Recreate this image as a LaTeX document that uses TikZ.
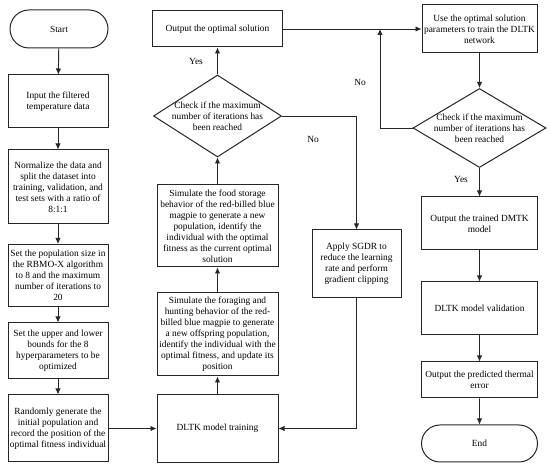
\documentclass[tikz,border=0pt]{standalone}
\usepackage{fontspec}
\setmainfont{Liberation Serif}
\usetikzlibrary{shapes.geometric,shapes.misc,arrows.meta}
\begin{document}
\begin{tikzpicture}[x=1pt,y=-1pt,
  every node/.style={font=\fontsize{9.4pt}{11pt}\selectfont, align=center, inner sep=0pt},
  box/.style={draw=black!85, line width=1pt, rectangle},
  term/.style={draw=black!85, line width=1pt, rounded rectangle},
  dia/.style={draw=black!85, line width=1pt, diamond, inner sep=0pt},
  arr/.style={draw=black!85, line width=0.9pt, -{Latex[length=6pt,width=5.5pt]}},
  lbl/.style={font=\fontsize{9.4pt}{11pt}\selectfont}]
\useasboundingbox (0,0) rectangle (550,470);
% left column
\node[term, minimum width=98pt, minimum height=38pt] (start) at (59,29) {Start};
\node[box, minimum width=100pt, minimum height=53pt] (input) at (58,101.5) {Input the filtered\\temperature data};
\node[box, minimum width=100pt, minimum height=74pt] (norm) at (58,187) {Normalize the data and\\split the dataset into\\training, validation, and\\test sets with a ratio of\\8:1:1};
\node[box, minimum width=100pt, minimum height=62pt] (pop) at (58,275.5) {Set the population size in\\the RBMO-X algorithm\\to 8 and the maximum\\number of iterations to\\20};
\node[box, minimum width=100pt, minimum height=56pt] (bounds) at (58,351) {Set the upper and lower\\bounds for the 8\\hyperparameters to be\\optimized};
\node[box, minimum width=100pt, minimum height=67pt] (rand) at (58,428.5) {Randomly generate the\\initial population and\\record the position of the\\optimal fitness individual};
% middle column
\node[box, minimum width=121pt, minimum height=68pt] (train) at (217.5,428.5) {DLTK model training};
\node[box, minimum width=121pt, minimum height=83pt] (forage) at (217.5,334.5) {Simulate the foraging and\\hunting behavior of the red-\\billed blue magpie to generate\\a new offspring population,\\identify the individual with the\\optimal fitness, and update its\\position};
\node[box, minimum width=121pt, minimum height=82pt] (food) at (217.5,226) {Simulate the food storage\\behavior of the red-billed blue\\magpie to generate a new\\population, identify the\\individual with the optimal\\fitness as the current optimal\\solution};
\node[dia, minimum width=128pt, minimum height=82pt] (d1) at (217.5,116) {};
\node (d1t) at (217.5,116) {Check if the maximum\\number of iterations has\\been reached};
\node[box, minimum width=130pt, minimum height=36pt] (optsol) at (217.5,29) {Output the optimal solution};
\node[box, minimum width=89pt, minimum height=68pt] (sgdr) at (356.5,264) {Apply SGDR to\\reduce the learning\\rate and perform\\gradient clipping};
% right column
\node[box, minimum width=115pt, minimum height=48pt] (use) at (479.5,29) {Use the optimal solution\\parameters to train the DLTK\\network};
\node[dia, minimum width=133pt, minimum height=79pt] (d2) at (479.5,128) {};
\node (d2t) at (479.5,128) {Check if the maximum\\number of iterations has\\been reached};
\node[box, minimum width=116pt, minimum height=53pt] (trained) at (479.5,223.5) {Output the trained DMTK\\model};
\node[box, minimum width=116pt, minimum height=53pt] (valid) at (479.5,308.5) {DLTK model validation};
\node[box, minimum width=116pt, minimum height=36pt] (pred) at (479.5,380) {Output the predicted thermal\\error};
\node[term, minimum width=116pt, minimum height=37pt] (end) at (479.5,443.5) {End};
% coordinates
\coordinate (c1) at (356.5,116);
\coordinate (c2) at (356.5,428.5);
\coordinate (c3) at (380,128);
\coordinate (c4) at (380,29);
% arrows
\draw[arr] (start) -- (input);
\draw[arr] (input) -- (norm);
\draw[arr] (norm) -- (pop);
\draw[arr] (pop) -- (bounds);
\draw[arr] (bounds) -- (rand);
\draw[arr] (rand) -- (train);
\draw[arr] (train) -- (forage);
\draw[arr] (forage) -- (food);
\draw[arr] (food) -- (d1);
\draw[arr] (d1) -- (optsol);
\draw[arr] (d1.east) -- (c1) -- (sgdr.north);
\draw[arr] (sgdr.south) -- (c2) -- (train.east);
\draw[arr] (optsol.east) -- (use.west);
\draw[arr] (d2.west) -- (c3) -- (c4);
\draw[arr] (use) -- (d2);
\draw[arr] (d2) -- (trained);
\draw[arr] (trained) -- (valid);
\draw[arr] (valid) -- (pred);
\draw[arr] (pred) -- (end);
% labels
\node[lbl] (y1) at (196,61) {Yes};
\node[lbl] (n1) at (313,139) {No};
\node[lbl] (n2) at (360,82) {No};
\node[lbl] (y2) at (461,179) {Yes};
\end{tikzpicture}
\end{document}
